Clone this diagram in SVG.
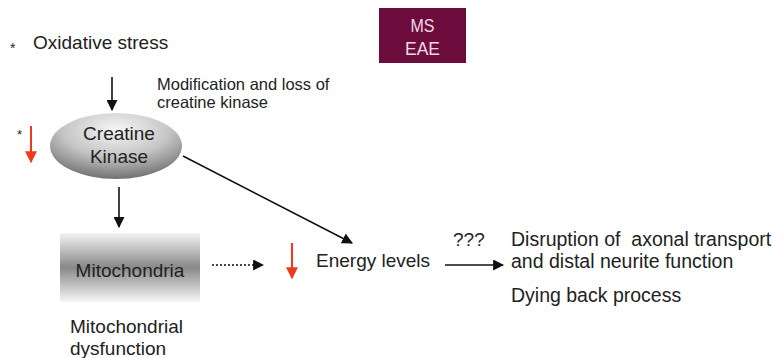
<svg xmlns="http://www.w3.org/2000/svg" width="772" height="358" viewBox="0 0 772 358">
<style>
text{font-family:"Liberation Sans",Arial,sans-serif;fill:#222}
.l{stroke:#111;stroke-width:1.6;fill:none}
.r{stroke:#ee3a1a;stroke-width:2;fill:none}
.w{fill:#f0d8e2}
</style>
<defs>
<marker id="a" viewBox="0 0 10 10" refX="9" refY="5" markerWidth="11" markerHeight="11" markerUnits="userSpaceOnUse" orient="auto"><path d="M0,0L10,5L0,10z" fill="#111"/></marker>
<marker id="ar" viewBox="0 0 10 10" refX="9" refY="5" markerWidth="12" markerHeight="12" markerUnits="userSpaceOnUse" orient="auto"><path d="M0,0L10,5L0,10z" fill="#ee3a1a"/></marker>
<radialGradient id="eg" cx="0.5" cy="0.25" r="0.8">
<stop offset="0" stop-color="#f6f6f6"/><stop offset="0.5" stop-color="#c6c6c6"/><stop offset="1" stop-color="#666"/>
</radialGradient>
<linearGradient id="mg" x1="0" y1="0" x2="0" y2="1">
<stop offset="0" stop-color="#f4f4f4"/><stop offset="0.5" stop-color="#888"/><stop offset="1" stop-color="#f6f6f6"/>
</linearGradient>
</defs>
<g id="ms-eae">
<rect x="379" y="8" width="87" height="55" fill="#6c0c3c"/>
<text x="422.5" y="32" font-size="19" text-anchor="middle" class="w" textLength="24" lengthAdjust="spacingAndGlyphs">MS</text>
<text x="422.5" y="55" font-size="19" text-anchor="middle" class="w" textLength="35" lengthAdjust="spacingAndGlyphs">EAE</text>
</g>
<g id="oxidative-stress">
<text x="10" y="53" font-size="14">*</text>
<text x="33" y="49" font-size="19">Oxidative stress</text>
</g>
<g id="modification-label">
<text x="157" y="90" font-size="16.5">Modification and loss of</text>
<text x="157" y="108" font-size="16.5">creatine kinase</text>
</g>
<g id="creatine-kinase">
<ellipse cx="116" cy="146" rx="66" ry="33" fill="url(#eg)"/>
<text x="119" y="140" font-size="19" text-anchor="middle">Creatine</text>
<text x="119" y="163" font-size="19" text-anchor="middle">Kinase</text>
</g>
<g id="ck-decrease">
<text x="17" y="139" font-size="13">*</text>
<line x1="31" y1="126" x2="31" y2="162" class="r" marker-end="url(#ar)"/>
</g>
<g id="mitochondria">
<rect x="60" y="233" width="140" height="69" fill="url(#mg)"/>
<text x="130" y="277" font-size="19" text-anchor="middle">Mitochondria</text>
</g>
<g id="mito-dysfunction">
<text x="70" y="333" font-size="19">Mitochondrial</text>
<text x="70" y="355" font-size="19">dysfunction</text>
</g>
<g id="energy-levels">
<line x1="292" y1="243" x2="292" y2="278" class="r" marker-end="url(#ar)"/>
<text x="316" y="267" font-size="19">Energy levels</text>
</g>
<g id="disruption">
<text x="511" y="246" font-size="19.5" xml:space="preserve" style="white-space:pre">Disruption of  axonal transport</text>
<text x="511" y="268" font-size="19.5">and distal neurite function</text>
<text x="511" y="302" font-size="19.5">Dying back process</text>
</g>
<g id="connectors">
<line x1="112" y1="77" x2="112" y2="110" class="l" marker-end="url(#a)"/>
<line x1="119" y1="187" x2="119" y2="227" class="l" marker-end="url(#a)"/>
<line x1="183" y1="156" x2="352" y2="243" class="l" marker-end="url(#a)"/>
<line x1="212" y1="265" x2="263" y2="265" class="l" stroke-dasharray="2,2" marker-end="url(#a)"/>
<line x1="445" y1="265" x2="503" y2="265" class="l" marker-end="url(#a)"/>
<text x="453" y="246" font-size="19">???</text>
</g>
</svg>
